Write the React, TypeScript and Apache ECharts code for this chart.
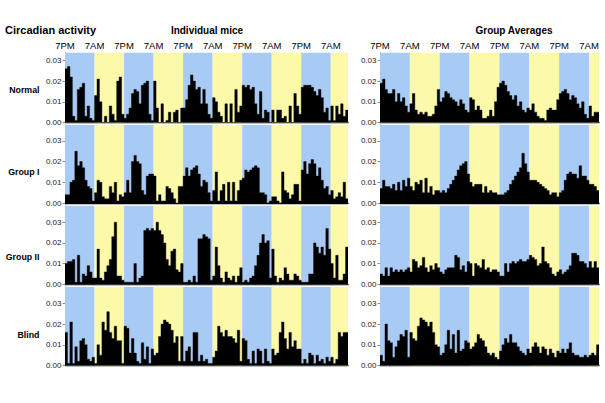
import React, { useEffect, useRef } from 'react';
import * as echarts from 'echarts';

const leftTickLabels = ['7PM', '7AM', '7PM', '7AM', '7PM', '7AM', '7PM', '7AM', '7PM', '7AM'];
const rightTickLabels = ['7PM', '7AM', '7PM', '7AM', '7PM', '7AM', '7PM', '7AM'];
const yTickValues = [0, 0.01, 0.02, 0.03];
const rowNames = ['Normal', 'Group I', 'Group II', 'Blind'];
const panelTitles = ['Individual mice', 'Group Averages'];
const chartTitle = 'Circadian activity';

// Individual mice (hourly bins, 5 mice side by side)
const normalMice = [
  0.026, 0.027, 0.022, 0.003, 0.001, 0.016, 0.017, 0.019, 0.003, 0.008, 0.002, 0.001,
  0.013, 0.021, 0.010, 0.000, 0.003, 0.000, 0.008, 0.004, 0.001, 0.020, 0.022, 0.004,
  0.002, 0.004, 0.007, 0.014, 0.016, 0.015, 0.009, 0.018, 0.019, 0.020, 0.004, 0.001,
  0.020, 0.007, 0.000, 0.009, 0.000, 0.001, 0.005, 0.000, 0.005, 0.006, 0.000, 0.007,
  0.007, 0.011, 0.018, 0.023, 0.020, 0.016, 0.017, 0.009, 0.016, 0.009, 0.004, 0.002,
  0.012, 0.010, 0.005, 0.003, 0.000, 0.009, 0.000, 0.009, 0.000, 0.016, 0.005, 0.008,
  0.018, 0.017, 0.018, 0.016, 0.017, 0.009, 0.004, 0.015, 0.002, 0.006, 0.005, 0.000,
  0.006, 0.000, 0.006, 0.006, 0.002, 0.003, 0.000, 0.008, 0.000, 0.014, 0.008, 0.004,
  0.017, 0.018, 0.018, 0.018, 0.017, 0.015, 0.013, 0.016, 0.012, 0.005, 0.007, 0.001,
  0.008, 0.001, 0.008, 0.004, 0.009, 0.003, 0.006,
];
const groupIMice = [
  0.004, 0.004, 0.010, 0.011, 0.025, 0.018, 0.020, 0.017, 0.011, 0.008, 0.007, 0.001,
  0.005, 0.011, 0.010, 0.003, 0.002, 0.002, 0.008, 0.005, 0.010, 0.001, 0.004, 0.003,
  0.005, 0.011, 0.005, 0.020, 0.023, 0.020, 0.019, 0.006, 0.004, 0.013, 0.014, 0.014,
  0.013, 0.001, 0.004, 0.001, 0.001, 0.008, 0.007, 0.005, 0.002, 0.000, 0.008, 0.008,
  0.013, 0.017, 0.013, 0.016, 0.017, 0.018, 0.014, 0.008, 0.011, 0.010, 0.005, 0.001,
  0.006, 0.015, 0.001, 0.006, 0.009, 0.001, 0.010, 0.001, 0.010, 0.001, 0.006, 0.011,
  0.012, 0.016, 0.015, 0.016, 0.017, 0.018, 0.017, 0.005, 0.005, 0.004, 0.000, 0.001,
  0.003, 0.003, 0.001, 0.000, 0.015, 0.006, 0.005, 0.002, 0.004, 0.009, 0.009, 0.001,
  0.016, 0.020, 0.014, 0.019, 0.021, 0.019, 0.013, 0.017, 0.011, 0.007, 0.008, 0.004,
  0.006, 0.002, 0.003, 0.005, 0.003, 0.010, 0.002,
];
const groupIIMice = [
  0.010, 0.011, 0.011, 0.012, 0.001, 0.014, 0.001, 0.005, 0.004, 0.009, 0.006, 0.003,
  0.003, 0.017, 0.003, 0.002, 0.006, 0.009, 0.012, 0.023, 0.030, 0.004, 0.004, 0.002,
  0.001, 0.001, 0.001, 0.001, 0.010, 0.001, 0.003, 0.004, 0.026, 0.027, 0.026, 0.027,
  0.026, 0.030, 0.026, 0.024, 0.020, 0.012, 0.009, 0.016, 0.017, 0.007, 0.006, 0.010,
  0.001, 0.001, 0.002, 0.001, 0.004, 0.001, 0.022, 0.022, 0.024, 0.023, 0.022, 0.002,
  0.004, 0.018, 0.009, 0.003, 0.001, 0.006, 0.003, 0.002, 0.004, 0.001, 0.004, 0.008,
  0.001, 0.002, 0.001, 0.003, 0.004, 0.009, 0.014, 0.020, 0.024, 0.020, 0.021, 0.003,
  0.017, 0.004, 0.001, 0.003, 0.002, 0.008, 0.005, 0.002, 0.002, 0.005, 0.004, 0.002,
  0.001, 0.001, 0.001, 0.005, 0.005, 0.020, 0.018, 0.015, 0.018, 0.014, 0.027, 0.017,
  0.010, 0.003, 0.014, 0.002, 0.002, 0.005, 0.018,
];
const blindMice = [
  0.016, 0.001, 0.021, 0.001, 0.009, 0.002, 0.012, 0.013, 0.010, 0.003, 0.002, 0.004,
  0.001, 0.010, 0.005, 0.021, 0.017, 0.026, 0.016, 0.013, 0.019, 0.012, 0.012, 0.001,
  0.019, 0.018, 0.006, 0.013, 0.006, 0.002, 0.001, 0.011, 0.003, 0.009, 0.001, 0.008,
  0.005, 0.006, 0.014, 0.020, 0.022, 0.021, 0.020, 0.017, 0.011, 0.014, 0.002, 0.014,
  0.002, 0.007, 0.009, 0.002, 0.016, 0.016, 0.002, 0.005, 0.002, 0.003, 0.001, 0.001,
  0.004, 0.007, 0.019, 0.016, 0.014, 0.017, 0.014, 0.014, 0.013, 0.011, 0.017, 0.002,
  0.013, 0.012, 0.003, 0.001, 0.007, 0.001, 0.008, 0.007, 0.001, 0.008, 0.002, 0.001,
  0.008, 0.005, 0.006, 0.016, 0.021, 0.013, 0.008, 0.016, 0.009, 0.012, 0.008, 0.008,
  0.001, 0.003, 0.001, 0.006, 0.005, 0.001, 0.005, 0.002, 0.003, 0.001, 0.004, 0.002,
  0.004, 0.001, 0.003, 0.016, 0.014, 0.016, 0.016,
];

// Group averages (hourly bins)
const normalAvg = [
  0.019, 0.021, 0.016, 0.014, 0.014, 0.016, 0.010, 0.014, 0.010, 0.012, 0.008, 0.005,
  0.009, 0.014, 0.006, 0.004, 0.005, 0.004, 0.005, 0.003, 0.003, 0.004, 0.008, 0.016,
  0.010, 0.012, 0.015, 0.014, 0.012, 0.011, 0.010, 0.008, 0.011, 0.009, 0.006, 0.005,
  0.012, 0.011, 0.006, 0.008, 0.006, 0.002, 0.002, 0.003, 0.006, 0.003, 0.010, 0.017,
  0.019, 0.020, 0.018, 0.015, 0.013, 0.011, 0.013, 0.008, 0.010, 0.006, 0.005, 0.007,
  0.006, 0.009, 0.005, 0.003, 0.002, 0.002, 0.001, 0.006, 0.007, 0.006, 0.006, 0.011,
  0.014, 0.015, 0.016, 0.014, 0.011, 0.013, 0.012, 0.009, 0.007, 0.010, 0.004, 0.002,
  0.008, 0.003, 0.005, 0.005,
];
const groupIAvg = [
  0.007, 0.011, 0.008, 0.008, 0.007, 0.009, 0.006, 0.010, 0.006, 0.011, 0.008, 0.012,
  0.008, 0.006, 0.010, 0.009, 0.011, 0.005, 0.012, 0.005, 0.008, 0.004, 0.006, 0.006,
  0.005, 0.006, 0.005, 0.007, 0.009, 0.011, 0.013, 0.016, 0.018, 0.019, 0.020, 0.014,
  0.010, 0.008, 0.009, 0.009, 0.009, 0.005, 0.008, 0.005, 0.006, 0.005, 0.005, 0.004,
  0.004, 0.004, 0.005, 0.006, 0.009, 0.011, 0.013, 0.015, 0.017, 0.024, 0.019, 0.015,
  0.011, 0.011, 0.011, 0.010, 0.009, 0.008, 0.007, 0.006, 0.004, 0.005, 0.005, 0.003,
  0.005, 0.006, 0.011, 0.014, 0.015, 0.014, 0.014, 0.012, 0.018, 0.013, 0.013, 0.011,
  0.009, 0.009, 0.008, 0.006,
];
const groupIIAvg = [
  0.005, 0.004, 0.008, 0.004, 0.008, 0.006, 0.007, 0.006, 0.007, 0.006, 0.007, 0.008,
  0.006, 0.012, 0.011, 0.008, 0.009, 0.013, 0.008, 0.006, 0.009, 0.007, 0.010, 0.008,
  0.006, 0.005, 0.007, 0.008, 0.008, 0.008, 0.014, 0.013, 0.007, 0.009, 0.006, 0.011,
  0.010, 0.004, 0.010, 0.009, 0.008, 0.012, 0.007, 0.008, 0.006, 0.007, 0.007, 0.006,
  0.004, 0.004, 0.010, 0.006, 0.010, 0.011, 0.010, 0.011, 0.012, 0.011, 0.011, 0.012,
  0.014, 0.013, 0.012, 0.009, 0.010, 0.018, 0.011, 0.010, 0.008, 0.005, 0.004, 0.006,
  0.007, 0.005, 0.006, 0.007, 0.009, 0.015, 0.015, 0.014, 0.011, 0.011, 0.010, 0.008,
  0.011, 0.008, 0.011, 0.008,
];
const blindAvg = [
  0.005, 0.002, 0.020, 0.012, 0.011, 0.004, 0.009, 0.012, 0.015, 0.014, 0.017, 0.004,
  0.016, 0.013, 0.012, 0.019, 0.023, 0.022, 0.021, 0.019, 0.021, 0.016, 0.010, 0.009,
  0.005, 0.006, 0.010, 0.017, 0.008, 0.015, 0.006, 0.017, 0.007, 0.008, 0.012, 0.011,
  0.008, 0.009, 0.011, 0.015, 0.013, 0.012, 0.009, 0.006, 0.005, 0.006, 0.004, 0.003,
  0.007, 0.010, 0.013, 0.011, 0.015, 0.011, 0.011, 0.009, 0.007, 0.006, 0.005, 0.008,
  0.006, 0.009, 0.011, 0.009, 0.006, 0.009, 0.008, 0.005, 0.008, 0.006, 0.004, 0.007,
  0.006, 0.008, 0.006, 0.008, 0.011, 0.006, 0.005, 0.005, 0.004, 0.004, 0.005, 0.004,
  0.005, 0.006, 0.005, 0.010,
];

const BLUE = '#a8cbf6';
const YELLOW = '#fcf9a8';
const FONT = '"Liberation Sans", Arial, Helvetica, sans-serif';
const HOURS_PER_BAND = 12;
const PX_PER_UNIT = 2070; // pixels per 1.0 of y value

export default function App() {
  const ref = useRef<HTMLDivElement>(null);

  useEffect(() => {
    if (!ref.current) return;
    const chart = echarts.init(ref.current, null, { renderer: 'svg' });

    const panels = [
      { left: 65, width: 283, labels: leftTickLabels, rows: [normalMice, groupIMice, groupIIMice, blindMice] },
      { left: 380, width: 219, labels: rightTickLabels, rows: [normalAvg, groupIAvg, groupIIAvg, blindAvg] },
    ];
    const rowBoxes = [
      { top: 52.7, zero: 122.5 },
      { top: 125, zero: 203 },
      { top: 205.8, zero: 284.3 },
      { top: 287, zero: 365.5 },
    ];

    const grid: any[] = [];
    const xAxis: any[] = [];
    const yAxis: any[] = [];
    const series: any[] = [];

    panels.forEach((p) => {
      p.rows.forEach((data, r) => {
        const g = grid.length;
        const rb = rowBoxes[r];
        const n = data.length;
        const h = rb.zero - rb.top;
        grid.push({ left: p.left, top: rb.top, width: p.width, height: h });
        // hidden category axis: one slot per hourly bin, carries the black baseline
        xAxis.push({
          type: 'category',
          gridIndex: g,
          data: data.map((_, i) => String(i)),
          boundaryGap: true,
          axisLine: { show: true, onZero: false, lineStyle: { color: '#000', width: 1.3 } },
          axisTick: { show: false },
          axisLabel: { show: false },
          splitLine: { show: false },
        });
        // hour axis (0..n); labels every 12 hours on top row
        xAxis.push({
          type: 'value',
          gridIndex: g,
          position: 'top',
          min: 0,
          max: n,
          interval: HOURS_PER_BAND,
          axisLine: { show: false },
          axisTick: { show: false },
          splitLine: { show: false },
          axisLabel: {
            show: r === 0,
            formatter: (v: number) => p.labels[v / HOURS_PER_BAND] ?? '',
            fontSize: 9.5,
            color: '#000',
            margin: 2,
            fontFamily: FONT,
          },
        });
        yAxis.push({
          type: 'value',
          gridIndex: g,
          min: 0,
          max: h / PX_PER_UNIT,
          axisLine: { show: true, lineStyle: { color: '#8c8c8c', width: 1 } },
          axisTick: { show: true, length: 2.5, customValues: yTickValues, lineStyle: { color: '#8c8c8c' } },
          axisLabel: {
            customValues: yTickValues,
            formatter: (v: number) => v.toFixed(2),
            fontSize: 8,
            color: '#1a1a1a',
            margin: 3.5,
            fontFamily: FONT,
          },
          splitLine: { show: false },
        });
        const bands: any[] = [];
        for (let i = 0; i * HOURS_PER_BAND < n; i++) {
          bands.push([
            { xAxis: i * HOURS_PER_BAND, itemStyle: { color: i % 2 === 0 ? BLUE : YELLOW } },
            { xAxis: Math.min((i + 1) * HOURS_PER_BAND, n) },
          ]);
        }
        series.push({
          type: 'line',
          xAxisIndex: 2 * g + 1,
          yAxisIndex: g,
          data: [[0, 0]],
          showSymbol: false,
          symbol: 'none',
          lineStyle: { opacity: 0 },
          silent: true,
          markArea: { silent: true, z: 1, data: bands, itemStyle: { borderWidth: 0 } },
        });
        // hourly bins drawn as a stepped filled histogram (bin i spans hour i..i+1)
        const steps = data.map((v, i) => [i, v]);
        steps.push([n, data[n - 1]]);
        series.push({
          type: 'line',
          xAxisIndex: 2 * g + 1,
          yAxisIndex: g,
          data: steps,
          step: 'end',
          symbol: 'none',
          showSymbol: false,
          z: 3,
          silent: true,
          lineStyle: { color: '#000', width: 0.4 },
          areaStyle: { color: '#000', opacity: 1, origin: 'start' },
        });
      });
    });

    const rowLabelY = [89.5, 172, 256.5, 334.5];
    const graphic: any[] = [
      {
        type: 'text',
        x: 5,
        y: 30,
        style: { text: chartTitle, font: `bold 11px ${FONT}`, fill: '#000', align: 'left', verticalAlign: 'middle', textAlign: 'left', textVerticalAlign: 'middle' },
      },
      {
        type: 'text',
        x: 207,
        y: 30.5,
        style: { text: panelTitles[0], font: `bold 10px ${FONT}`, fill: '#000', align: 'center', verticalAlign: 'middle', textAlign: 'center', textVerticalAlign: 'middle' },
      },
      {
        type: 'text',
        x: 514,
        y: 30.5,
        style: { text: panelTitles[1], font: `bold 10px ${FONT}`, fill: '#000', align: 'center', verticalAlign: 'middle', textAlign: 'center', textVerticalAlign: 'middle' },
      },
      ...rowNames.map((name, i) => ({
        type: 'text',
        x: 39.5,
        y: rowLabelY[i],
        style: { text: name, font: `bold 8.8px ${FONT}`, fill: '#000', align: 'right', verticalAlign: 'middle', textAlign: 'right', textVerticalAlign: 'middle' },
      })),
    ];

    chart.setOption({
      animation: false,
      backgroundColor: '#fff',
      grid,
      xAxis,
      yAxis,
      series,
      graphic,
    });

    return () => chart.dispose();
  }, []);

  return (
    <div
      ref={ref}
      style={{ position: 'absolute', left: 0, top: 0, width: 605, height: 403, background: '#fff' }}
    />
  );
}
